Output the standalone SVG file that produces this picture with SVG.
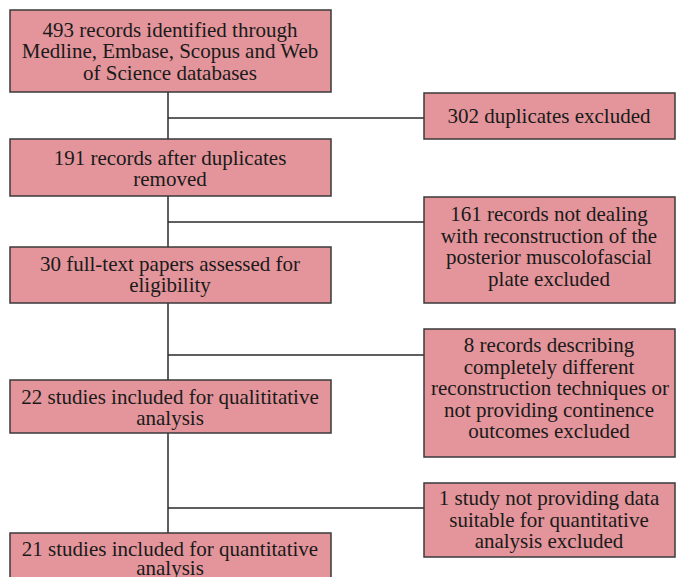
<svg xmlns="http://www.w3.org/2000/svg" width="676" height="577" viewBox="0 0 676 577">
<style>
.box{fill:#E3959B;stroke:#3a3a3a;stroke-width:1.5}
.t{font-family:"Liberation Serif",serif;font-size:21px;fill:#1a1a1a;text-anchor:middle}
.c{stroke:#2a2a2a;stroke-width:1.5;fill:none}
</style>
<g id="connectors">
<line class="c" x1="168" y1="92" x2="168" y2="534"/>
<line class="c" x1="168" y1="118" x2="424" y2="118"/>
<line class="c" x1="168" y1="222" x2="424" y2="222"/>
<line class="c" x1="168" y1="355" x2="424" y2="355"/>
<line class="c" x1="168" y1="508" x2="424" y2="508"/>
</g>
<g id="n1"><rect class="box" x="10" y="10" width="321" height="82"/>
<text class="t" x="170" y="37">493 records identified through</text>
<text class="t" x="170" y="58">Medline, Embase, Scopus and Web</text>
<text class="t" x="170" y="80">of Science databases</text></g>
<g id="n2"><rect class="box" x="10" y="139" width="321" height="57"/>
<text class="t" x="170" y="165">191 records after duplicates</text>
<text class="t" x="170" y="186">removed</text></g>
<g id="n3"><rect class="box" x="10" y="247" width="321" height="56"/>
<text class="t" x="170" y="271">30 full-text papers assessed for</text>
<text class="t" x="170" y="292">eligibility</text></g>
<g id="n4"><rect class="box" x="10" y="380" width="321" height="53"/>
<text class="t" x="170" y="404">22 studies included for qualititative</text>
<text class="t" x="170" y="425">analysis</text></g>
<g id="n5"><rect class="box" x="10" y="533" width="321" height="60"/>
<text class="t" x="170" y="556">21 studies included for quantitative</text>
<text class="t" x="170" y="575">analysis</text></g>
<g id="e1"><rect class="box" x="424" y="93" width="251" height="46"/>
<text class="t" x="549" y="123">302 duplicates excluded</text></g>
<g id="e2"><rect class="box" x="424" y="197" width="251" height="106"/>
<text class="t" x="549" y="221">161 records not dealing</text>
<text class="t" x="549" y="243">with reconstruction of the</text>
<text class="t" x="549" y="264">posterior muscolofascial</text>
<text class="t" x="549" y="286">plate excluded</text></g>
<g id="e3"><rect class="box" x="424" y="329" width="251" height="128"/>
<text class="t" x="549" y="352">8 records describing</text>
<text class="t" x="549" y="374">completely different</text>
<text class="t" x="550" y="395">reconstruction techniques or</text>
<text class="t" x="549" y="417">not providing continence</text>
<text class="t" x="549" y="438">outcomes excluded</text></g>
<g id="e4"><rect class="box" x="424" y="483" width="251" height="74"/>
<text class="t" x="549" y="505">1 study not providing data</text>
<text class="t" x="549" y="527">suitable for quantitative</text>
<text class="t" x="549" y="548">analysis excluded</text></g>
</svg>
